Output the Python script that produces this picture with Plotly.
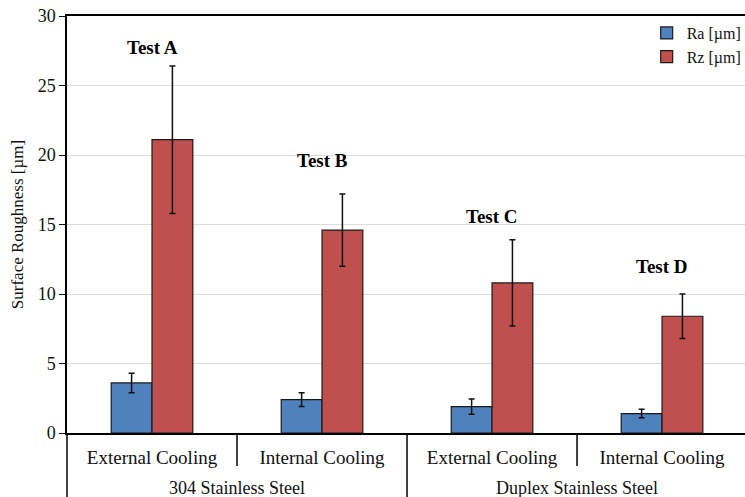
import plotly.graph_objects as go

materials = ["304 Stainless Steel", "304 Stainless Steel", "Duplex Stainless Steel", "Duplex Stainless Steel"]
cooling = ["External Cooling", "Internal Cooling", "External Cooling", "Internal Cooling"]
tests = ["Test A", "Test B", "Test C", "Test D"]
test_label_y = [27.7, 19.6, 15.6, 12.0]

ra = [3.6, 2.4, 1.9, 1.4]
ra_err = [0.7, 0.5, 0.55, 0.3]
rz = [21.1, 14.6, 10.8, 8.4]
rz_err = [5.3, 2.6, 3.1, 1.6]

xi = list(range(len(cooling)))
SERIF = "Liberation Serif"

fig = go.Figure()
fig.add_trace(go.Bar(
    x=xi, y=ra, name="Ra [µm]",
    marker=dict(color="#4F81BD", line=dict(color="#1a1a1a", width=1.2)),
    error_y=dict(type="data", array=ra_err, color="#111111", thickness=1.5, width=3),
))
fig.add_trace(go.Bar(
    x=xi, y=rz, name="Rz [µm]",
    marker=dict(color="#C0504D", line=dict(color="#1a1a1a", width=1.2)),
    error_y=dict(type="data", array=rz_err, color="#111111", thickness=1.5, width=3),
))

for i, t in enumerate(tests):
    fig.add_annotation(x=xi[i], y=test_label_y[i], text="<b>%s</b>" % t, showarrow=False,
                       xref="x", yref="y", font=dict(family=SERIF, size=19, color="black"))

# Group (outer) labels
groups = []
for i, m in enumerate(materials):
    if not groups or groups[-1][0] != m:
        groups.append([m, i, i])
    else:
        groups[-1][2] = i
for m, a, b in groups:
    fig.add_annotation(x=(a + b) / 2, y=-0.133, xref="x", yref="paper", text=m, showarrow=False,
                       yanchor="middle", font=dict(family=SERIF, size=18, color="#111111"))

plot_h = 497 - 16 - 64
# dividers
for k in range(len(cooling) - 1):
    outer = materials[k] != materials[k + 1]
    y0 = -64 / plot_h if outer else -33 / plot_h
    fig.add_shape(type="line", xref="x", yref="paper", x0=k + 0.5, x1=k + 0.5, y0=0, y1=y0,
                  line=dict(color="black", width=1.5))
# y-axis line extension
fig.add_shape(type="line", xref="paper", yref="paper", x0=0, x1=0, y0=0, y1=-64 / plot_h,
              line=dict(color="black", width=1.5))

fig.update_layout(
    width=745, height=497,
    margin=dict(l=67, r=0, t=16, b=64, autoexpand=False),
    plot_bgcolor="white", paper_bgcolor="white",
    barmode="group", bargap=0.52, bargroupgap=0,
    font=dict(family=SERIF, size=18, color="#111111"),
    legend=dict(x=0.855, y=1.0, xanchor="left", yanchor="top", bgcolor="rgba(255,255,255,0)",
                font=dict(family=SERIF, size=16, color="#111111"), tracegroupgap=0,
                itemwidth=30),
    showlegend=True,
)
fig.update_xaxes(
    range=[-0.5, 3.488], tickmode="array", tickvals=xi, ticktext=cooling,
    showgrid=False, showline=True, linecolor="black", linewidth=1.5, mirror=True,
    ticks="", ticklabelstandoff=6,
    tickfont=dict(family=SERIF, size=19, color="#111111"), zeroline=False,
)
fig.update_yaxes(
    range=[0, 30], dtick=5, showgrid=True, gridcolor="#dcdcdc", gridwidth=1,
    showline=True, linecolor="black", linewidth=1.5, ticks="outside", ticklen=6, tickcolor="black",
    tickfont=dict(family=SERIF, size=18, color="#111111"),
    title=dict(text="Surface Roughness [µm]", font=dict(family=SERIF, size=17, color="#111111"), standoff=10),
    zeroline=False,
)

fig.write_html("out.html")
